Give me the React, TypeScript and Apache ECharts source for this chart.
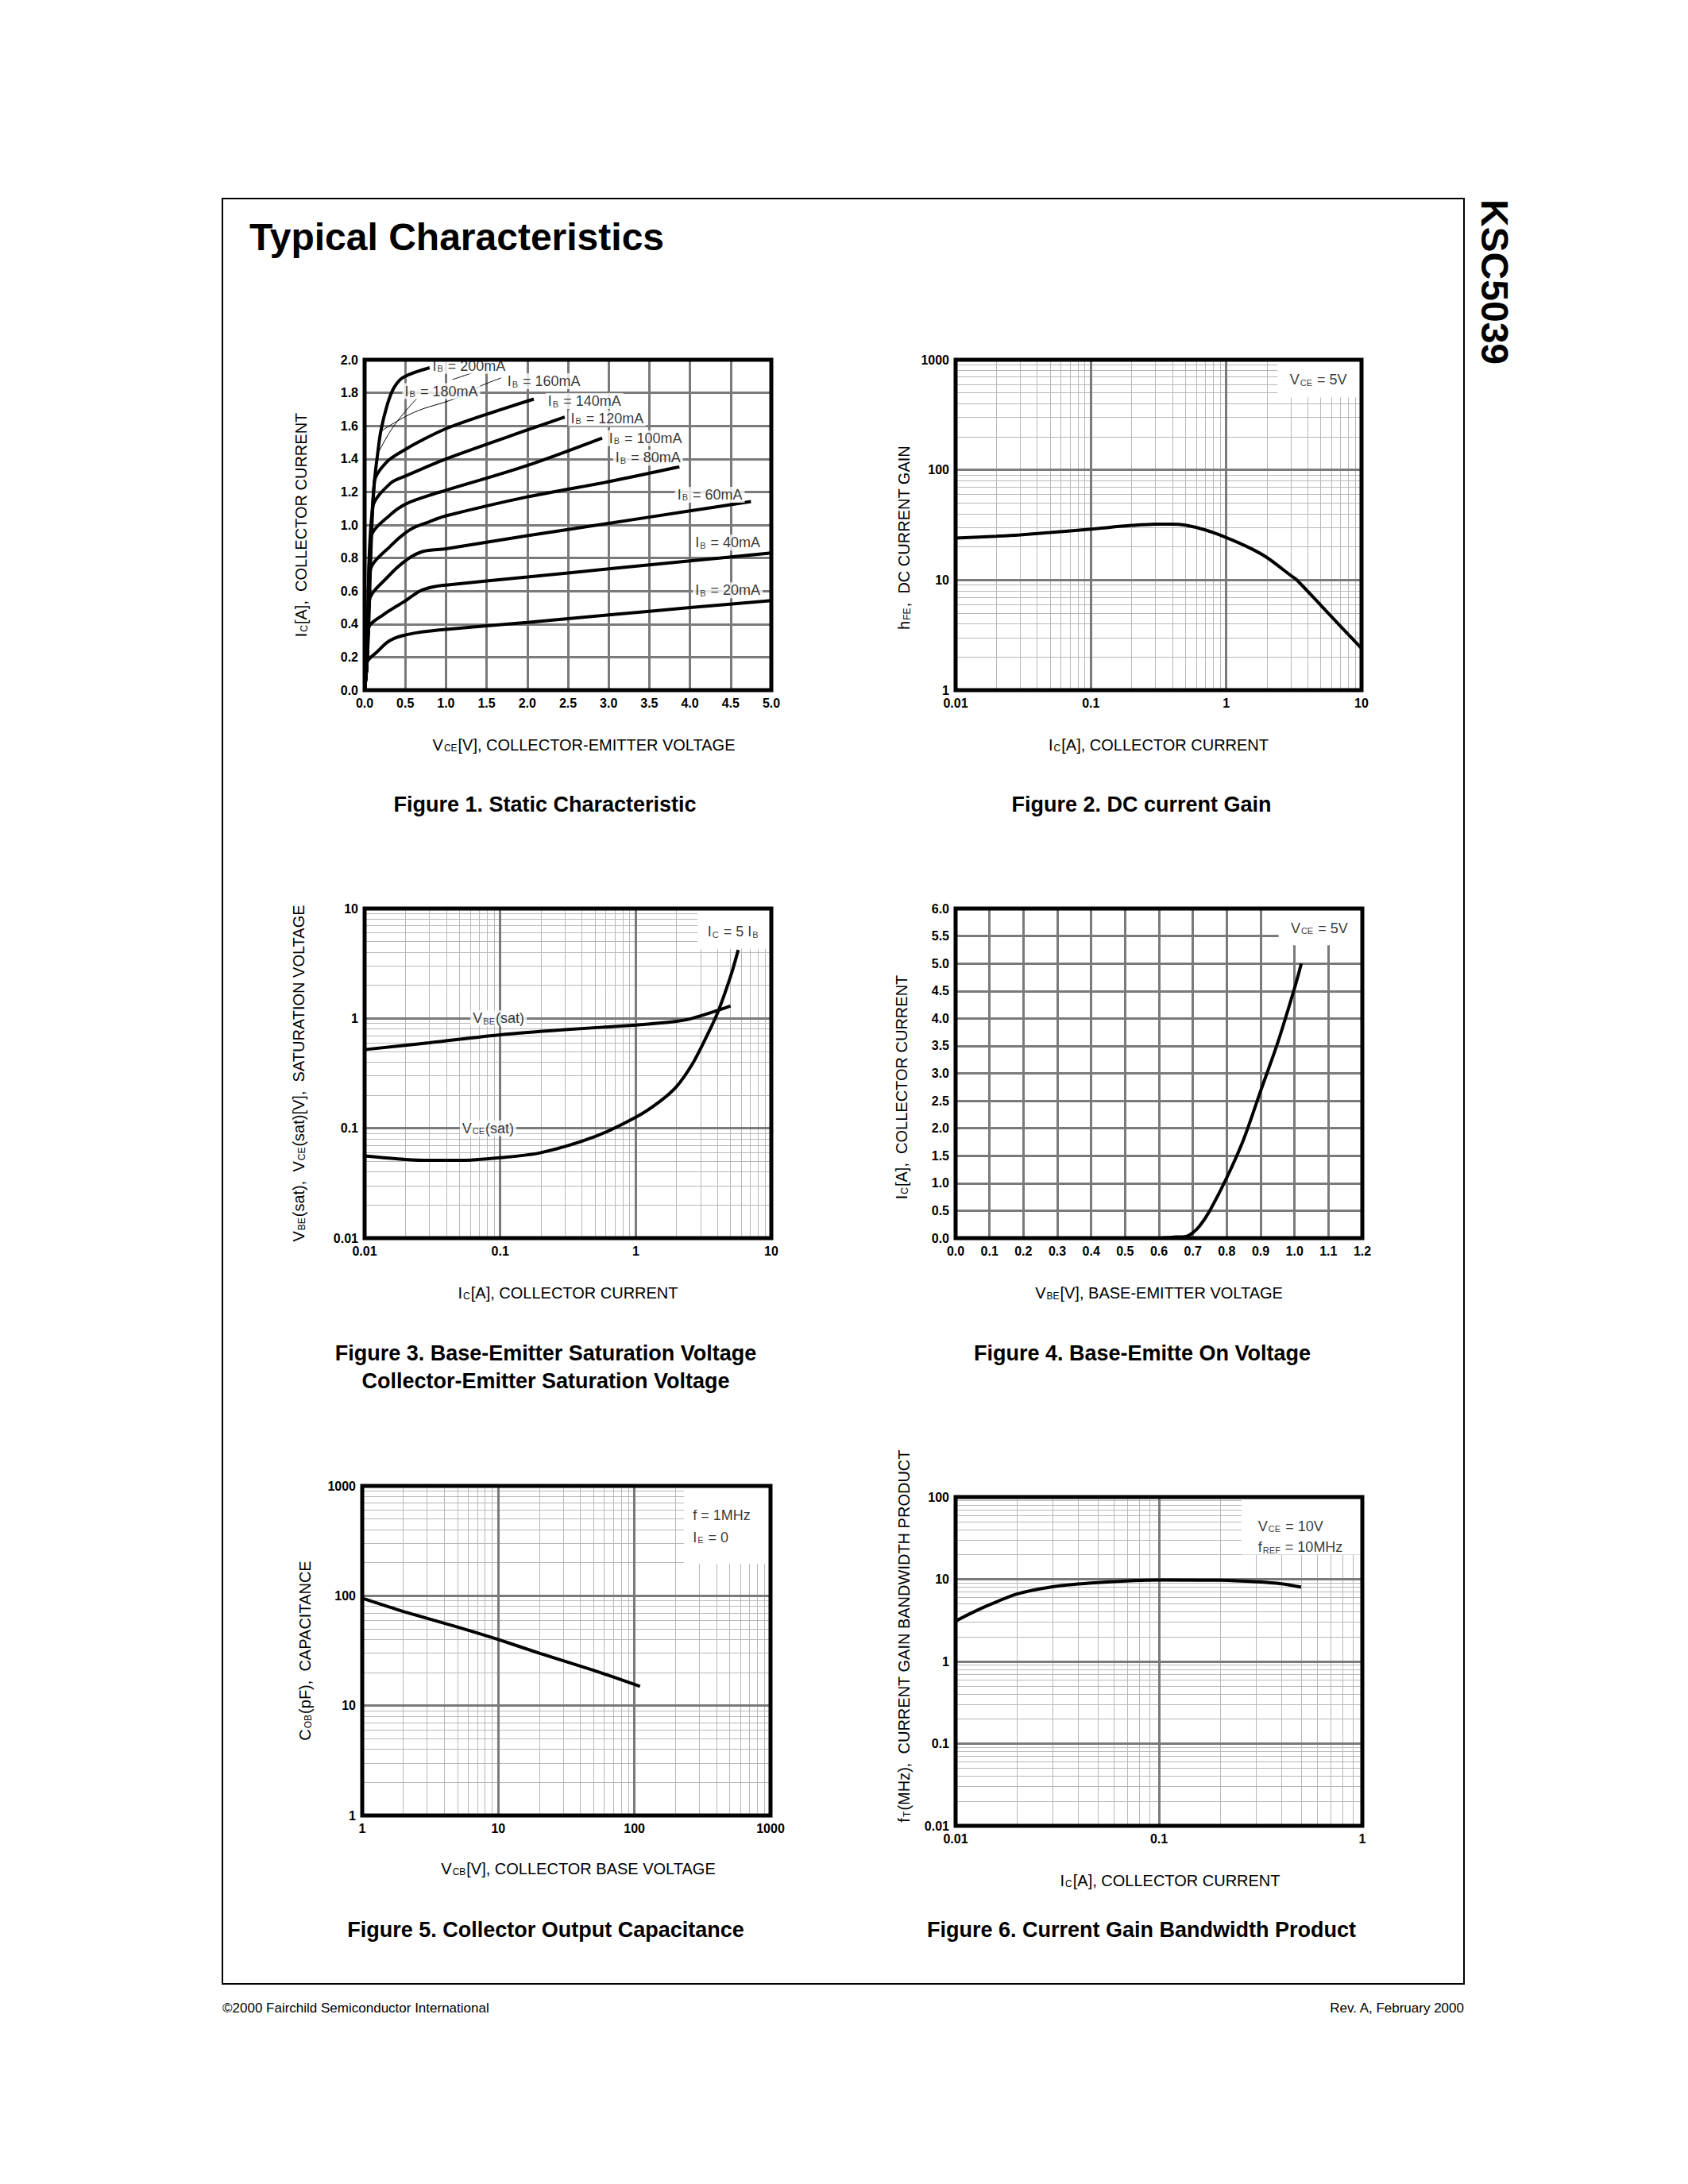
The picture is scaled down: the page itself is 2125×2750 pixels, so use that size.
import React, { useEffect, useRef } from "react";
import * as echarts from "echarts";

const FONT = "'Liberation Sans', Arial, Helvetica, sans-serif";

// ---------------- Figure 1: Static Characteristic (VCE [V], IC [A]) ----------------
const fig1Ib20 = [[0, 0], [0.03, 0.17], [0.15, 0.23], [0.28, 0.29], [0.4, 0.32], [0.52, 0.336], [0.7, 0.352], [1, 0.368], [2, 0.41], [3, 0.455], [4, 0.5], [5, 0.542]];
const fig1Ib40 = [[0, 0], [0.03, 0.17], [0.05, 0.377], [0.24, 0.46], [0.48, 0.534], [0.68, 0.6], [0.84, 0.625], [1, 0.636], [2, 0.685], [3, 0.734], [4, 0.782], [5, 0.831]];
const fig1Ib60 = [[0, 0], [0.03, 0.17], [0.06, 0.545], [0.28, 0.683], [0.52, 0.79], [0.72, 0.84], [1, 0.856], [2, 0.935], [3, 1.01], [4, 1.085], [4.75, 1.142]];
const fig1Ib80 = [[0, 0], [0.03, 0.17], [0.07, 0.724], [0.32, 0.873], [0.56, 0.972], [0.8, 1.02], [1, 1.055], [2, 1.17], [3, 1.262], [3.87, 1.352]];
const fig1Ib100 = [[0, 0], [0.03, 0.17], [0.08, 0.926], [0.32, 1.063], [0.52, 1.13], [0.8, 1.18], [1, 1.21], [2, 1.36], [2.92, 1.526]];
const fig1Ib120 = [[0, 0], [0.03, 0.17], [0.1, 1.107], [0.32, 1.253], [0.52, 1.3], [1, 1.4], [2, 1.575], [2.46, 1.653]];
const fig1Ib140 = [[0, 0], [0.03, 0.17], [0.12, 1.26], [0.28, 1.385], [0.52, 1.463], [0.72, 1.517], [1, 1.583], [1.5, 1.67], [2.08, 1.762]];
const fig1Ib200 = [[0, 0], [0.03, 0.17], [0.05, 0.38], [0.07, 0.72], [0.09, 1.0], [0.12, 1.26], [0.16, 1.43], [0.2, 1.57], [0.28, 1.73], [0.36, 1.83], [0.48, 1.895], [0.8, 1.952]];
const fig1Curves = [fig1Ib20, fig1Ib40, fig1Ib60, fig1Ib80, fig1Ib100, fig1Ib120, fig1Ib140, fig1Ib200];
// thin leader lines drawn in the original
const fig1Leader180 = [[0.16, 1.43], [0.36, 1.6], [0.64, 1.765]];
const fig1Leader160 = [[0.2, 1.567], [0.6, 1.68], [1.11, 1.765], [1.42, 1.84], [1.68, 1.89]];
const fig1Leader200 = [[1.08, 1.88], [1.32, 1.92]];
const fig1LabelNames = ["200mA", "180mA", "160mA", "140mA", "120mA", "100mA", "80mA", "60mA", "40mA", "20mA"];
const fig1LabelAnchors = [[0.8, 1.963], [0.46, 1.81], [1.72, 1.87], [2.22, 1.75], [2.5, 1.645], [2.97, 1.525], [3.05, 1.407], [3.81, 1.183], [4.03, 0.893], [4.03, 0.605]];

// ---------------- Figure 2: DC current gain ----------------
const fig2Ic = [0.01, 0.02, 0.03, 0.05, 0.1, 0.2, 0.3, 0.4, 0.5, 0.7, 1, 1.5, 2, 3, 3.3, 5, 7, 10];
const fig2Hfe = [24, 25, 25.7, 27, 29, 31.3, 32.2, 32.2, 31.5, 28.5, 24.3, 19.5, 16, 11, 10.1, 5.9, 3.8, 2.4];

// ---------------- Figure 3: Saturation voltages ----------------
const fig3VbeIc = [0.01, 0.03, 0.1, 0.3, 1, 2, 2.6, 4, 5];
const fig3Vbe = [0.52, 0.6, 0.71, 0.79, 0.87, 0.94, 1.0, 1.18, 1.3];
const fig3VceIc = [0.01, 0.02, 0.03, 0.05, 0.1, 0.2, 0.5, 1, 1.5, 2, 2.6, 3.2, 4, 5, 5.7];
const fig3Vce = [0.056, 0.052, 0.051, 0.051, 0.054, 0.06, 0.084, 0.126, 0.175, 0.24, 0.38, 0.62, 1.11, 2.4, 4.2];

// ---------------- Figure 4: Base-emitter on voltage ----------------
const fig4Vbe = [0, 0.6, 0.65, 0.68, 0.7, 0.72, 0.75, 0.8, 0.85, 0.9, 0.95, 1.0, 1.02];
const fig4Ic = [0, 0, 0.02, 0.03, 0.1, 0.22, 0.5, 1.1, 1.8, 2.68, 3.55, 4.55, 5.0];

// ---------------- Figure 5: Collector output capacitance ----------------
const fig5Vcb = [1, 2, 5, 10, 20, 50, 110];
const fig5Cob = [95, 72, 52, 40, 30, 21, 15];

// ---------------- Figure 6: Current gain bandwidth product ----------------
const fig6Ic = [0.01, 0.012, 0.015, 0.02, 0.03, 0.05, 0.1, 0.2, 0.3, 0.4, 0.5];
const fig6Ft = [3.1, 3.9, 5, 6.6, 8.1, 9.1, 9.8, 9.7, 9.3, 8.8, 8.0];

// ---------------- layout ----------------
const GRIDS = [
  { left: 459, top: 453, width: 512, height: 416 },
  { left: 1203, top: 453, width: 511, height: 416 },
  { left: 459, top: 1144, width: 512, height: 415 },
  { left: 1203, top: 1144, width: 512, height: 415 },
  { left: 456, top: 1871, width: 514, height: 415 },
  { left: 1203, top: 1885, width: 512, height: 414 },
];

const CAPTIONS = [
  { text: "Figure 1. Static Characteristic", x: 686, y: 1013 },
  { text: "Figure 2. DC current Gain", x: 1437, y: 1013 },
  { text: "Figure 3. Base-Emitter Saturation Voltage", x: 687, y: 1704 },
  { text: "Collector-Emitter Saturation Voltage", x: 687, y: 1739 },
  { text: "Figure 4. Base-Emitte On Voltage", x: 1438, y: 1704 },
  { text: "Figure 5. Collector Output Capacitance", x: 687, y: 2430 },
  { text: "Figure 6. Current Gain Bandwidth Product", x: 1437, y: 2430 },
];

const richAxis = {
  n: { fontSize: 20, fontFamily: FONT, color: "#000" },
  s: { fontSize: 12, fontFamily: FONT, color: "#000", verticalAlign: "bottom", padding: [0, 1, 0, 1] },
};
const richNote = {
  n: { fontSize: 18, fontFamily: FONT, color: "#000" },
  s: { fontSize: 11, fontFamily: FONT, color: "#000", verticalAlign: "bottom", padding: [0, 1, 0, 1] },
};
const sub = (a: string, b: string, c: string, d = "", e = "") =>
  `{n|${a}}{s|${b}}{n|${c}}` + (d ? `{s|${d}}` : "") + (e ? `{n|${e}}` : "");

const labelStyle = { fontSize: 16, fontWeight: "bold", fontFamily: FONT, color: "#000", margin: 8, showMinLabel: true, showMaxLabel: true };

function fmtLog(v: number) {
  return String(parseFloat(Number(v).toPrecision(3)));
}

function linAxis(gi: number, min: number, max: number, interval: number, isY: boolean, name: string, gap: number, padding: number[] = [0, 0, 0, 0]) {
  return {
    type: "value", gridIndex: gi, min, max, interval, z: 2,
    name, nameLocation: "middle", nameGap: gap, nameRotate: isY ? 90 : 0,
    nameTextStyle: { fontSize: 20, fontFamily: FONT, color: "#000", rich: richAxis, padding },
    axisLine: { show: false }, axisTick: { show: false },
    axisLabel: { ...labelStyle, formatter: (v: number) => v.toFixed(1) },
    splitLine: { show: true, lineStyle: { color: "#7a7a7a", width: 3 } },
  };
}
function logAxis(gi: number, min: number, max: number, isY: boolean, name: string, gap: number, padding: number[] = [0, 0, 0, 0]) {
  return {
    type: "log", logBase: 10, gridIndex: gi, min, max, z: 2,
    name, nameLocation: "middle", nameGap: gap, nameRotate: isY ? 90 : 0,
    nameTextStyle: { fontSize: 20, fontFamily: FONT, color: "#000", rich: richAxis, padding },
    axisLine: { show: false }, axisTick: { show: false },
    axisLabel: { ...labelStyle, formatter: fmtLog },
    splitLine: { show: true, lineStyle: { color: "#7a7a7a", width: 3 } },
  };
}
function logMinors(lo: number, hi: number) {
  const out: number[] = [];
  for (let e = lo; e < hi; e++) for (let k = 2; k <= 9; k++) out.push(parseFloat((k * Math.pow(10, e)).toPrecision(3)));
  return out;
}
function minorGrid(gi: number, xs: number[], ys: number[]) {
  return {
    type: "line", xAxisIndex: gi, yAxisIndex: gi, data: [], silent: true, z: 1,
    markLine: {
      silent: true, z: 1, symbol: ["none", "none"], label: { show: false },
      lineStyle: { color: "#b8b8b8", width: 1, type: "solid" },
      emphasis: { disabled: true },
      data: [...xs.map((v) => ({ xAxis: v })), ...ys.map((v) => ({ yAxis: v }))],
    },
  };
}
function whiteBox(gi: number, a: number[], b: number[]) {
  return {
    type: "line", xAxisIndex: gi, yAxisIndex: gi, data: [], silent: true, z: 3,
    markArea: { silent: true, z: 3, label: { show: false }, itemStyle: { color: "#ffffff", opacity: 1 }, data: [[{ coord: a }, { coord: b }]] },
  };
}
function curve(gi: number, data: number[][], width = 4, smooth: number | boolean = 0.3) {
  return {
    type: "line", xAxisIndex: gi, yAxisIndex: gi, data, showSymbol: false, symbol: "none", silent: true, z: 4,
    smooth, lineStyle: { color: "#000", width }, itemStyle: { color: "#000" },
  };
}
function notes(gi: number, items: { pos: number[]; text: string; align: "left" | "center"; bg?: boolean }[]) {
  return {
    type: "scatter", xAxisIndex: gi, yAxisIndex: gi, symbolSize: 1, silent: true, z: 5,
    itemStyle: { color: "rgba(0,0,0,0)" },
    data: items.map((it) => ({
      value: it.pos,
      label: {
        show: true,
        position: it.align === "left" ? "right" : "inside",
        distance: 0,
        formatter: () => it.text,
        rich: richNote,
        fontSize: 18, fontFamily: FONT, color: "#000",
        backgroundColor: it.bg ? "#fff" : "transparent",
        padding: it.bg ? [1, 3, 1, 3] : 0,
      },
    })),
  };
}
const zip = (xs: number[], ys: number[]) => xs.map((x, i) => [x, ys[i]]);

function buildOption() {
  const xAxis = [
    linAxis(0, 0, 5, 0.5, false, sub("V", "CE", "[V], COLLECTOR-EMITTER VOLTAGE"), 59, [0, 0, 0, 40]),
    logAxis(1, 0.01, 10, false, sub("I", "C", "[A], COLLECTOR CURRENT"), 59),
    logAxis(2, 0.01, 10, false, sub("I", "C", "[A], COLLECTOR CURRENT"), 59),
    linAxis(3, 0, 1.2, 0.1, false, sub("V", "BE", "[V], BASE-EMITTER VOLTAGE"), 59),
    logAxis(4, 1, 1000, false, sub("V", "CB", "[V], COLLECTOR BASE VOLTAGE"), 57, [0, 0, 0, 30]),
    logAxis(5, 0.01, 1, false, sub("I", "C", "[A], COLLECTOR CURRENT"), 59, [0, 0, 0, 28]),
  ];
  const yAxis = [
    linAxis(0, 0, 2, 0.2, true, sub("I", "C", "[A],  COLLECTOR CURRENT"), 70),
    logAxis(1, 1, 1000, true, sub("h", "FE", ",  DC CURRENT GAIN"), 55, [0, 32, 0, 0]),
    logAxis(2, 0.01, 10, true, sub("V", "BE", "(sat),  V", "CE", "(sat)[V],  SATURATION VOLTAGE"), 73),
    linAxis(3, 0, 6, 0.5, true, sub("I", "C", "[A],  COLLECTOR CURRENT"), 58, [0, 35, 0, 0]),
    logAxis(4, 1, 1000, true, sub("C", "OB", "(pF),  CAPACITANCE"), 62),
    logAxis(5, 0.01, 100, true, sub("f", "T", "(MHz),  CURRENT GAIN BANDWIDTH PRODUCT"), 55, [0, 0, 0, 64]),
  ];

  const series: any[] = [];
  // Figure 1
  [fig1Leader180, fig1Leader160, fig1Leader200].forEach((l) => series.push(curve(0, l, 1, 0.4)));
  fig1Curves.forEach((c) => series.push(curve(0, c, 4, 0.3)));
  series.push(notes(0, fig1LabelNames.map((n, i) => ({ pos: fig1LabelAnchors[i], text: sub("I", "B", " = " + n), align: "left" as const, bg: true }))));

  // Figure 2
  series.push(minorGrid(1, logMinors(-2, 1), logMinors(0, 3)));
  series.push(whiteBox(1, [2.4, 454], [10, 1000]));
  series.push(curve(1, zip(fig2Ic, fig2Hfe), 4, 0.3));
  series.push(notes(1, [{ pos: [4.8, 660], text: sub("V", "CE", " = 5V"), align: "center" }]));

  // Figure 3
  series.push(minorGrid(2, logMinors(-2, 1), logMinors(-2, 1)));
  series.push(whiteBox(2, [2.86, 4.3], [10, 10]));
  series.push(curve(2, zip(fig3VbeIc, fig3Vbe), 4, 0.3));
  series.push(curve(2, zip(fig3VceIc, fig3Vce), 4, 0.3));
  series.push(notes(2, [
    { pos: [0.06, 1.0], text: sub("V", "BE", "(sat)"), align: "left", bg: true },
    { pos: [0.05, 0.1], text: sub("V", "CE", "(sat)"), align: "left", bg: true },
    { pos: [5.25, 6.15], text: sub("I", "C", " = 5 I", "B"), align: "center" },
  ]));

  // Figure 4
  series.push(whiteBox(3, [0.953, 5.33], [1.2, 6]));
  series.push(curve(3, zip(fig4Vbe, fig4Ic), 4, 0.3));
  series.push(notes(3, [{ pos: [1.073, 5.64], text: sub("V", "CE", " = 5V"), align: "center" }]));

  // Figure 5
  series.push(minorGrid(4, logMinors(0, 3), logMinors(0, 3)));
  series.push(whiteBox(4, [231, 196], [1000, 1000]));
  series.push(curve(4, zip(fig5Vcb, fig5Cob), 4, 0.2));
  series.push(notes(4, [
    { pos: [267, 543], text: "{n|f = 1MHz}", align: "left" },
    { pos: [267, 341], text: sub("I", "E", " = 0"), align: "left" },
  ]));

  // Figure 6
  series.push(minorGrid(5, logMinors(-2, 0), logMinors(-2, 2)));
  series.push(whiteBox(5, [0.255, 19.9], [1, 100]));
  series.push(curve(5, zip(fig6Ic, fig6Ft), 4, 0.3));
  series.push(notes(5, [
    { pos: [0.306, 44], text: sub("V", "CE", " = 10V"), align: "left" },
    { pos: [0.306, 24.5], text: sub("f", "REF", " = 10MHz"), align: "left" },
  ]));

  const graphic: any[] = [
    { type: "rect", silent: true, z: 0, shape: { x: 280, y: 250, width: 1563, height: 2248 }, style: { fill: "none", stroke: "#000", lineWidth: 2 } },
    { type: "text", silent: true, x: 314, y: 298, style: { text: "Typical Characteristics", fontSize: 48, fontWeight: "bold", fontFamily: FONT, fill: "#000", align: "left", verticalAlign: "middle" } },
    { type: "text", silent: true, x: 1881, y: 355, rotation: -Math.PI / 2, style: { text: "KSC5039", fontSize: 48, fontWeight: "bold", fontFamily: FONT, fill: "#000", align: "center", verticalAlign: "middle" } },
    { type: "text", silent: true, x: 280, y: 2528, style: { text: "©2000 Fairchild Semiconductor International", fontSize: 17, fontFamily: FONT, fill: "#000", align: "left", verticalAlign: "middle" } },
    { type: "text", silent: true, x: 1843, y: 2528, style: { text: "Rev. A, February 2000", fontSize: 17, fontFamily: FONT, fill: "#000", align: "right", verticalAlign: "middle" } },
    ...CAPTIONS.map((c) => ({
      type: "text", silent: true, x: c.x, y: c.y,
      style: { text: c.text, fontSize: 27, fontWeight: "bold", fontFamily: FONT, fill: "#000", align: "center", verticalAlign: "middle" },
    })),
  ];

  return {
    animation: false,
    backgroundColor: "#ffffff",
    textStyle: { fontFamily: FONT },
    grid: GRIDS.map((g) => ({ ...g, show: true, borderColor: "#000", borderWidth: 5, backgroundColor: "transparent", z: 10, containLabel: false })),
    xAxis,
    yAxis,
    series,
    graphic,
  };
}

export default function App() {
  const ref = useRef<HTMLDivElement>(null);
  useEffect(() => {
    document.body.style.margin = "0";
    const chart = echarts.init(ref.current as HTMLDivElement, null, { renderer: "svg" });
    chart.setOption(buildOption() as any);
    return () => chart.dispose();
  }, []);
  return <div ref={ref} style={{ width: 2125, height: 2750, background: "#fff" }} />;
}
